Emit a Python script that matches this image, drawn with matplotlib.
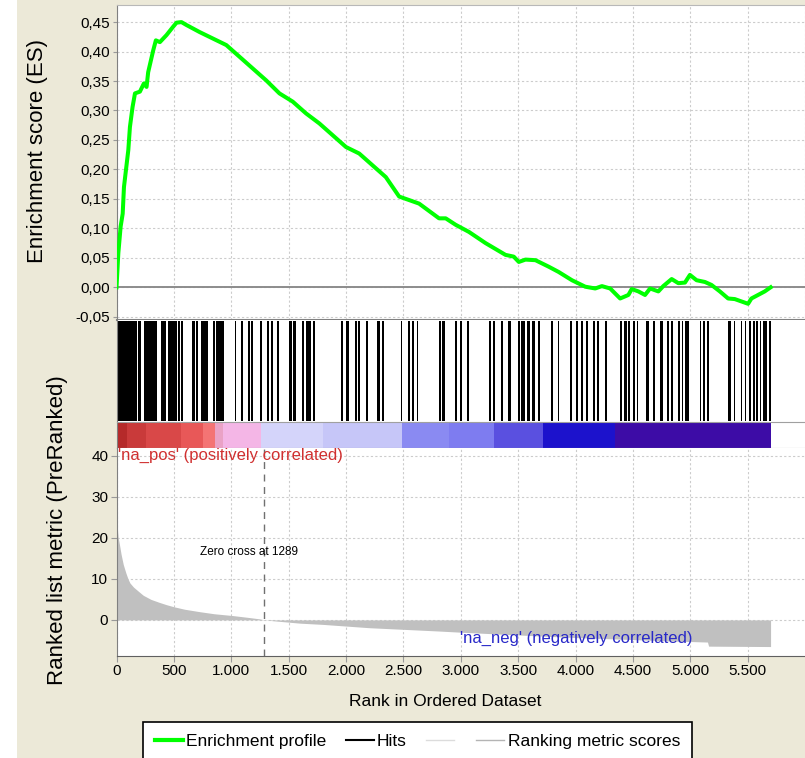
import numpy as np
import matplotlib
matplotlib.use('Agg')
import matplotlib.pyplot as plt
from matplotlib.lines import Line2D
from matplotlib.patches import Rectangle
from matplotlib.ticker import FuncFormatter, MultipleLocator

plt.rcParams['font.family'] = ['Liberation Sans', 'DejaVu Sans']

# running enrichment score
es_rank = [0, 16, 36, 54, 65, 83, 103, 117, 140, 161, 204, 239, 262, 276, 320, 343, 378, 436, 493, 523,
           566, 610, 725, 841, 957, 1073, 1189, 1305, 1420, 1536, 1652, 1768, 1884, 2000, 2115, 2231,
           2347, 2463, 2637, 2811, 2869, 2956, 3071, 3216, 3390, 3462, 3506, 3564, 3651, 3766, 3853,
           3969, 4085, 4172, 4230, 4302, 4389, 4461, 4490, 4548, 4606, 4650, 4722, 4765, 4838, 4896,
           4954, 4997, 5055, 5128, 5185, 5258, 5330, 5388, 5446, 5504, 5533, 5591, 5649, 5701]
es_value = [0.0, 0.058, 0.103, 0.125, 0.17, 0.20, 0.233, 0.272, 0.306, 0.329, 0.332, 0.346, 0.34, 0.365,
            0.402, 0.419, 0.416, 0.428, 0.442, 0.449, 0.45, 0.445, 0.433, 0.422, 0.411, 0.391, 0.371,
            0.351, 0.329, 0.315, 0.295, 0.278, 0.258, 0.238, 0.227, 0.207, 0.187, 0.154, 0.142, 0.117,
            0.117, 0.106, 0.094, 0.075, 0.055, 0.052, 0.043, 0.047, 0.046, 0.035, 0.026, 0.012, 0.001,
            -0.002, 0.002, -0.002, -0.019, -0.013, -0.003, -0.007, -0.013, -0.002, -0.007, 0.002, 0.014,
            0.007, 0.008, 0.021, 0.012, 0.009, 0.004, -0.007, -0.019, -0.02, -0.024, -0.028, -0.019,
            -0.013, -0.007, 0.0]

# hit positions (start, end rank of each mark)
hit_start = [0, 190, 242, 384, 450, 537, 566, 662, 691, 740, 841, 870, 1030, 1082, 1145, 1175, 1253,
             1310, 1348, 1397, 1507, 1542, 1618, 1652, 1681, 1716, 1956, 2000, 2078, 2107, 2174, 2269,
             2313, 2478, 2544, 2579, 2617, 2811, 2840, 2950, 2993, 3051, 3245, 3282, 3355, 3413, 3497,
             3526, 3578, 3621, 3673, 3786, 3845, 3955, 4005, 4050, 4090, 4149, 4186, 4259, 4389, 4424,
             4461, 4505, 4534, 4612, 4679, 4737, 4800, 4832, 4896, 4925, 4954, 5084, 5113, 5150, 5330,
             5380, 5440, 5475, 5513, 5547, 5576, 5605, 5634, 5654, 5684]
hit_end = [175, 210, 355, 430, 523, 552, 580, 682, 711, 798, 856, 934, 1044, 1102, 1160, 1189, 1270,
           1328, 1363, 1420, 1531, 1566, 1632, 1675, 1696, 1730, 1977, 2023, 2092, 2122, 2188, 2295,
           2327, 2492, 2559, 2594, 2631, 2825, 2863, 2964, 3008, 3074, 3260, 3297, 3369, 3439, 3520,
           3564, 3607, 3645, 3688, 3801, 3859, 3969, 4020, 4064, 4105, 4172, 4201, 4273, 4409, 4447,
           4476, 4520, 4548, 4641, 4693, 4766, 4815, 4852, 4911, 4939, 4989, 5098, 5128, 5162, 5359,
           5394, 5452, 5489, 5533, 5562, 5591, 5620, 5649, 5669, 5701]

# ranking colour bar
bar_start = [0, 90, 260, 560, 750, 860, 930, 1260, 1800, 2490, 2900, 3290, 3720, 4340]
bar_end = [90, 260, 560, 750, 860, 930, 1260, 1800, 2490, 2900, 3290, 3720, 4340, 5700]
bar_color = ['#b52a2a', '#c93a3a', '#d94848', '#e85858', '#f47474', '#eaa2c6', '#f4b6e6',
             '#d4d4fa', '#c6c6f8', '#8a8af2', '#7e7cf0', '#5a50e0', '#1c12cc', '#3d0ca6']

# ranked list metric
metric_rank = [0, 5, 15, 25, 40, 59, 81, 100, 117, 148, 190, 233, 300, 370, 436, 500, 593, 725, 850,
               1015, 1150, 1247, 1289, 1400, 1600, 1800, 2000, 2200, 2500, 2800, 3000, 3300, 3600,
               4000, 4400, 4800, 5150, 5160, 5700]
metric_value = [24.5, 23, 20, 18.5, 16, 13.5, 11.5, 10, 9, 8, 7, 6, 5, 4.3, 3.7, 3.2, 2.6, 2.0, 1.5,
                1.05, 0.6, 0.25, 0.0, -0.3, -0.8, -1.1, -1.5, -1.9, -2.3, -2.7, -3.0, -3.4, -3.8,
                -4.3, -4.7, -5.1, -5.4, -6.4, -6.5]
zero_cross = 1289

es_ticks = [i * 0.05 for i in range(-1, 10)]
x_ticks = list(range(0, 6000, 500))
metric_ticks = [0, 10, 20, 30, 40]

W, H = 805, 758
fig = plt.figure(figsize=(W / 100, H / 100), dpi=100, facecolor='#ECE9D8')
fig.patches.append(Rectangle((0, 0), 17 / W, 1, transform=fig.transFigure,
                             facecolor='white', edgecolor='none', zorder=-1))

left = 116.5 / W
width = 1 - left
XMAX = 6000
grid_kw = dict(color='#cccccc', linestyle=(0, (2, 2)), linewidth=0.8)


def box(top, bottom):
    return [left, (H - bottom) / H, width, (bottom - top) / H]


# --- enrichment score panel
ax1 = fig.add_axes(box(5, 320))
ax1.plot(es_rank, es_value, color='#00ff00', lw=2.9, solid_joinstyle='round', zorder=3)
ax1.axhline(0, color='#8c8c8c', lw=1.4, zorder=2)
ax1.set_xlim(0, XMAX)
ax1.set_ylim(-0.0555, 0.479)
ax1.set_yticks(es_ticks)
ax1.yaxis.set_major_formatter(FuncFormatter(lambda v, p: ('%.2f' % (round(v, 2) + 0.0)).replace('.', ',')))
ax1.xaxis.set_major_locator(MultipleLocator(500))
ax1.tick_params(axis='x', length=0, labelbottom=False)
ax1.tick_params(axis='y', length=3, color='#999999', labelsize=11, pad=2)
ax1.grid(True, **grid_kw)
ax1.set_axisbelow(True)
ax1.set_ylabel('Enrichment score (ES)', fontsize=16)
ax1.yaxis.set_label_coords((48 - 116.5) / 688.5, (320 - 151) / 315)
ax1.spines['right'].set_visible(False)
ax1.spines['top'].set_color('#b8b8b8')
ax1.spines['left'].set_color('#808080')
ax1.spines['bottom'].set_color('#808080')
ax1.spines['bottom'].set_linewidth(1.5)

# --- hits panel
ax2 = fig.add_axes(box(320, 422))
ax2.broken_barh([(s, e - s) for s, e in zip(hit_start, hit_end)], (0.01, 0.98), facecolors='black')
ax2.set_xlim(0, XMAX)
ax2.set_ylim(0, 1)
ax2.set_xticks([])
ax2.set_yticks([])
for s in ['top', 'right', 'bottom']:
    ax2.spines[s].set_visible(False)
ax2.spines['left'].set_color('#808080')

# --- colour bar
ax3 = fig.add_axes(box(422, 448))
ax3.broken_barh([(s, e - s) for s, e in zip(bar_start, bar_end)], (0, 1), facecolors=bar_color)
ax3.set_xlim(0, XMAX)
ax3.set_ylim(0, 1)
ax3.set_xticks([])
ax3.set_yticks([])
ax3.spines['right'].set_visible(False)
ax3.spines['top'].set_color('#a0a0a0')
ax3.spines['bottom'].set_color('#a0a0a0')
ax3.spines['left'].set_color('#808080')

# --- ranked list metric
ax4 = fig.add_axes(box(448, 656))
ax4.fill_between(metric_rank, metric_value, 0, color='#c0c0c0', lw=0, zorder=2)
ax4.axvline(zero_cross, color='#707070', lw=1, linestyle=(0, (5, 4)), zorder=3)
ax4.set_xlim(0, XMAX)
ax4.set_ylim(-8.8, 41.9)
ax4.set_yticks(metric_ticks)
ax4.set_xticks(x_ticks)
ax4.xaxis.set_major_formatter(FuncFormatter(lambda v, p: '{:,}'.format(int(v)).replace(',', '.')))
ax4.tick_params(length=4, color='#999999', labelsize=11, pad=2)
ax4.grid(True, **grid_kw)
ax4.set_axisbelow(True)
ax4.spines['right'].set_visible(False)
ax4.spines['top'].set_visible(False)
ax4.spines['left'].set_color('#808080')
ax4.spines['bottom'].set_color('#606060')
ax4.set_ylabel('Ranked list metric (PreRanked)', fontsize=16)
ax4.yaxis.set_label_coords((68 - 116.5) / 688.5, (656 - 530) / 208)
ax4.set_xlabel('Rank in Ordered Dataset', fontsize=12.5)
ax4.xaxis.set_label_coords((445 - 116.5) / 688.5, (656 - 694) / 208)
ax4.text(15, 40, "'na_pos' (positively correlated)", color='#d03030', fontsize=12, va='center', zorder=4)
ax4.text(2992, -4.4, "'na_neg' (negatively correlated)", color='#2828c8', fontsize=12, va='center', zorder=4)
ax4.text(725, 16.5, 'Zero cross at 1289', color='black', fontsize=8.5, va='center', zorder=4)

# --- legend
handles = [Line2D([], [], color='#00ff00', lw=3),
           Line2D([], [], color='black', lw=1.5),
           Line2D([], [], color='#dcdcdc', lw=1),
           Line2D([], [], color='#b4b4b4', lw=1)]
labels = ['Enrichment profile', 'Hits', '', 'Ranking metric scores']
leg = fig.legend(handles, labels, loc='upper left', bbox_to_anchor=(143 / W, 1 - 722 / H), ncol=4,
                 fontsize=12.5, frameon=True, fancybox=False, edgecolor='black', framealpha=1,
                 borderpad=0.7, handlelength=1.6, handletextpad=0.2, columnspacing=1.1,
                 borderaxespad=0)
leg.get_frame().set_linewidth(1.2)

fig.savefig('out.png', dpi=100, facecolor=fig.get_facecolor())
